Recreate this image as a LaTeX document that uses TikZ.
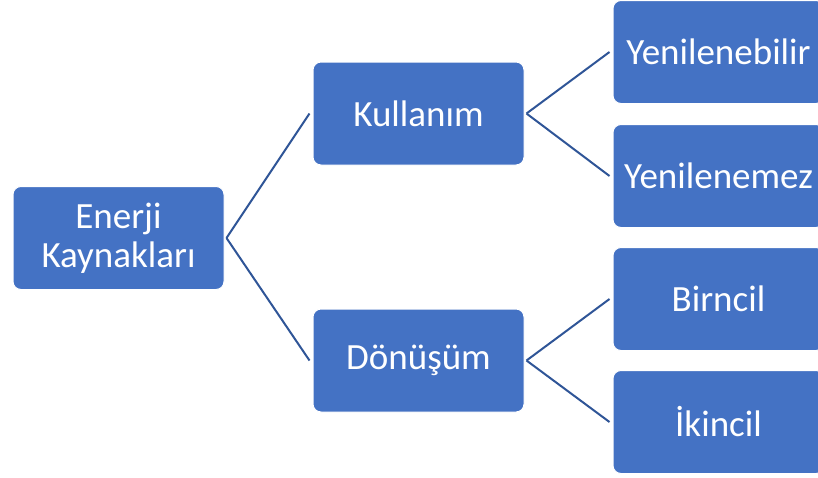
\documentclass[tikz,border=0pt]{standalone}
\usepackage{fontspec}
\setmainfont{Carlito}
\definecolor{boxfill}{HTML}{4472C4}
\definecolor{linecol}{HTML}{2F5597}
\begin{document}
\begin{tikzpicture}[x=1pt,y=-1pt,
  box/.style={rectangle, rounded corners=8pt, fill=boxfill, draw=white, line width=1pt,
    minimum width=211pt, minimum height=103pt, inner sep=0pt, text=white,
    font=\fontsize{37}{39}\selectfont, align=center},
  conn/.style={draw=linecol, line width=2pt}]
\useasboundingbox (0,0) rectangle (818,477);
\clip (0,0) rectangle (818,477);
\node[box] (en) at (118.5,238) {Enerji\\Kaynakları};
\node[box] (ku) at (418.5,113.5) {Kullanım};
\node[box] (do) at (418.5,360.5) {Dönüşüm};
\node[box] (y1) at (718.5,52) {Yenilenebilir};
\node[box] (y2) at (718.5,176) {Yenilenemez};
\node[box] (b1) at (718.5,299) {Birncil};
\node[box] (b2) at (718.5,422) {İkincil};
\draw[conn] ([xshift=2pt]en.east) -- ([xshift=-3pt]ku.west);
\draw[conn] ([xshift=2pt]en.east) -- ([xshift=-3pt]do.west);
\draw[conn] ([xshift=2pt]ku.east) -- ([xshift=-3pt]y1.west);
\draw[conn] ([xshift=2pt]ku.east) -- ([xshift=-3pt]y2.west);
\draw[conn] ([xshift=2pt]do.east) -- ([xshift=-3pt]b1.west);
\draw[conn] ([xshift=2pt]do.east) -- ([xshift=-3pt]b2.west);
\end{tikzpicture}
\end{document}
